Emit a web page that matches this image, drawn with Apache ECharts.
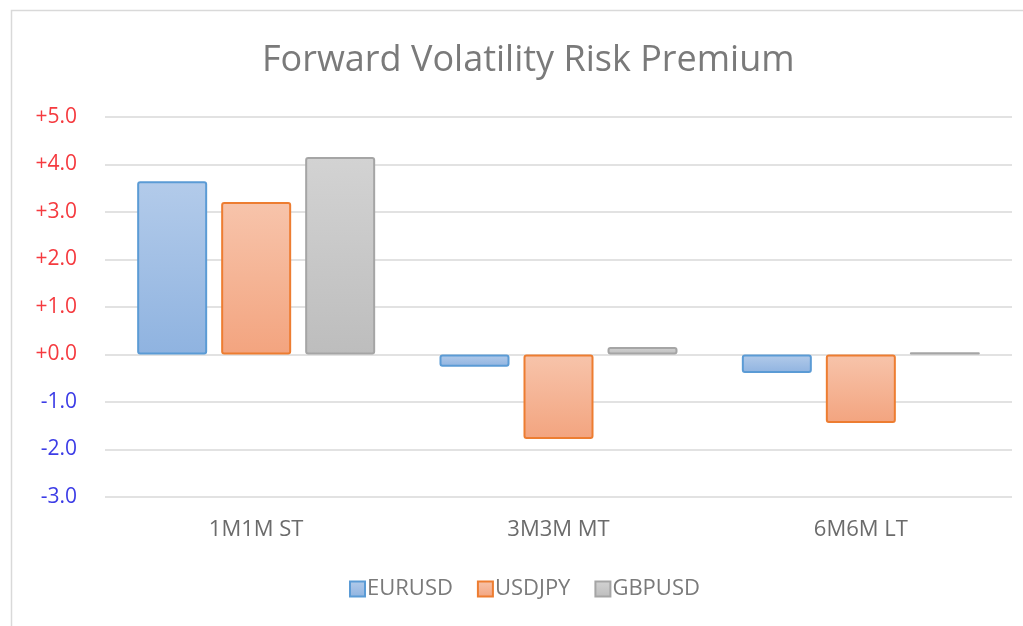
<!DOCTYPE html>
<html>
<head>
<meta charset="utf-8">
<script src="https://cdn.jsdelivr.net/npm/echarts@6/dist/echarts.min.js"></script>
<style>
  html, body { margin: 0; padding: 0; background: #fff; }
  #chart { width: 1023px; height: 626px; }
</style>
</head>
<body>
<div id="chart"></div>
<script>
const categories = ['1M1M ST', '3M3M MT', '6M6M LT']
const seriesNames = ['EURUSD', 'USDJPY', 'GBPUSD']
const eurusd = [3.65, -0.26, -0.39]
const usdjpy = [3.21, -1.78, -1.44]
const gbpusd = [4.16, 0.16, 0.05]
const yTicks = { min: -3, max: 5, interval: 1 }

// top / bottom gradient colours and border per series
const palette = [
  { top: '#b3cbea', bottom: '#8fb3e0', border: '#5b9bd5' },
  { top: '#f7c4ab', bottom: '#f3a47f', border: '#ed7d31' },
  { top: '#d3d3d3', bottom: '#bdbdbd', border: '#a5a5a5' }
]

const chart = echarts.init(document.getElementById('chart'))

const makeSeries = (name, data, i) => ({
  name: name,
  type: 'bar',
  data: data,
  barWidth: 70,
  barGap: '20%',
  itemStyle: {
    color: new echarts.graphic.LinearGradient(0, 0, 0, 1, [
      { offset: 0, color: palette[i].top },
      { offset: 1, color: palette[i].bottom }
    ]),
    borderColor: palette[i].border,
    borderWidth: 2,
    borderRadius: 2
  }
})

chart.setOption({
  animation: false,
  title: {
    text: 'Forward Volatility Risk Premium',
    left: 257,
    top: 38,
    textStyle: {
      fontFamily: 'Open Sans',
      fontWeight: 'normal',
      fontSize: 36,
      color: '#7a7a7a'
    }
  },
  legend: {
    data: seriesNames,
    bottom: 21,
    left: 344,
    itemWidth: 15,
    itemHeight: 15,
    itemGap: 24,
    icon: 'rect',
    textStyle: {
      fontFamily: 'Open Sans',
      fontSize: 22,
      color: '#7a7a7a',
      padding: [0, 0, 0, -3]
    }
  },
  grid: {
    left: 105,
    right: 11,
    top: 117,
    height: 380
  },
  xAxis: {
    type: 'category',
    data: categories,
    axisLine: { show: false },
    axisTick: { show: false },
    axisLabel: {
      margin: 22,
      fontFamily: 'Open Sans',
      fontSize: 22,
      color: '#6b6b6b'
    }
  },
  yAxis: {
    type: 'value',
    min: yTicks.min,
    max: yTicks.max,
    interval: yTicks.interval,
    axisLine: { show: false },
    axisTick: { show: false },
    splitLine: { lineStyle: { color: '#d9d9d9', width: 1.5 } },
    axisLabel: {
      margin: 28,
      fontFamily: 'Open Sans',
      fontSize: 21,
      formatter: v => v >= 0 ? '{p|+' + v.toFixed(1) + '}' : '{n|' + v.toFixed(1) + '}',
      rich: {
        p: { color: '#f53a3f', fontFamily: 'Open Sans', fontSize: 21 },
        n: { color: '#3c3ce6', fontFamily: 'Open Sans', fontSize: 21 }
      }
    }
  },
  graphic: [
    {
      type: 'polyline',
      shape: { points: [[11.5, 626], [11.5, 10.5], [1023, 10.5]] },
      style: { stroke: '#d9d9d9', lineWidth: 1.5, fill: null },
      silent: true
    }
  ],
  series: [
    makeSeries(seriesNames[0], eurusd, 0),
    makeSeries(seriesNames[1], usdjpy, 1),
    makeSeries(seriesNames[2], gbpusd, 2)
  ]
})
</script>
</body>
</html>
